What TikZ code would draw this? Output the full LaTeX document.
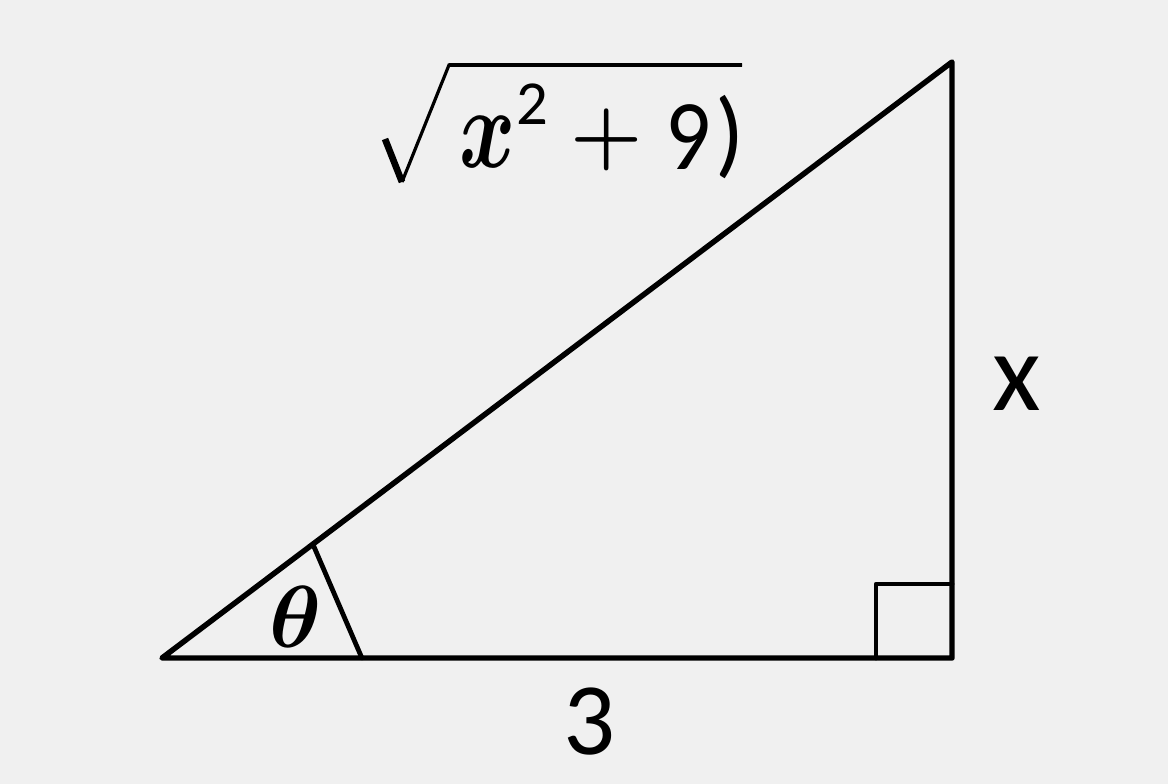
\documentclass[tikz,border=0pt]{standalone}
\usepackage{fontspec}
\usepackage{graphicx}
\newfontfamily\carlito{Carlito}
\usetikzlibrary{calc}
\definecolor{bg}{HTML}{F0F0F0}
\tikzset{
  edge/.style={line width=4.1pt, line join=round, line cap=round, black},
  lbl/.style={inner sep=0pt, outer sep=0pt, anchor=center, text=black}
}
\begin{document}
\begin{tikzpicture}[x=0.75pt, y=-0.75pt]
  \fill[bg] (0,0) rectangle (1168,784);
  \useasboundingbox (0,0) rectangle (1168,784);
  % triangle vertices
  \coordinate (A) at (162,658);
  \coordinate (B) at (952,658);
  \coordinate (C) at (952,62);
  \draw[edge] (A) -- (B) -- (C) -- cycle;
  % right angle mark
  \coordinate (Q1) at (876,658);
  \coordinate (Q2) at (876,584);
  \coordinate (Q3) at (952,584);
  \draw[edge, line width=3.6pt] (Q1) -- (Q2) -- (Q3);
  % angle mark (straight line)
  \coordinate (T1) at ($(A)!0.191!(C)$);
  \coordinate (T2) at ($(A)!0.253!(B)$);
  \draw[edge, line width=3.6pt] (T1) -- (T2);
  % labels
  \node[lbl] (theta) at (296,617) {\scalebox{6.6}{\boldmath$\theta$}};
  \node[lbl] (three) at (590,722) {\fontsize{77}{77}\carlito 3};
  \node[lbl] (xside) at (1017,384) {\fontsize{84}{84}\carlito x};
  % square root expression
  \coordinate (R0) at (385,139);
  \coordinate (R1) at (402,182);
  \coordinate (R2) at (449,65);
  \coordinate (R3) at (742,65);
  \draw[line width=5pt, line cap=butt] (R0) -- (R1);
  \draw[line width=2.4pt, line join=miter] (R1) -- (R2) -- (R3);
  \draw[line width=3.2pt] (R2) -- (R3);
  \node[lbl] (xvar) at (488,142) {\scalebox{6.4}[8.6]{\boldmath$x$}};
  \node[lbl] (sq) at (532,104) {\fontsize{47}{47}\carlito 2};
  \node[lbl] (plus) at (607,140) {\fontsize{62}{62}\selectfont\bfseries +};
  \node[lbl] (nine) at (688,137) {\scalebox{0.9}[1]{\fontsize{75}{75}\carlito 9}};
  \node[lbl] (paren) at (730,137) {\fontsize{72}{72}\carlito )};
\end{tikzpicture}
\end{document}
